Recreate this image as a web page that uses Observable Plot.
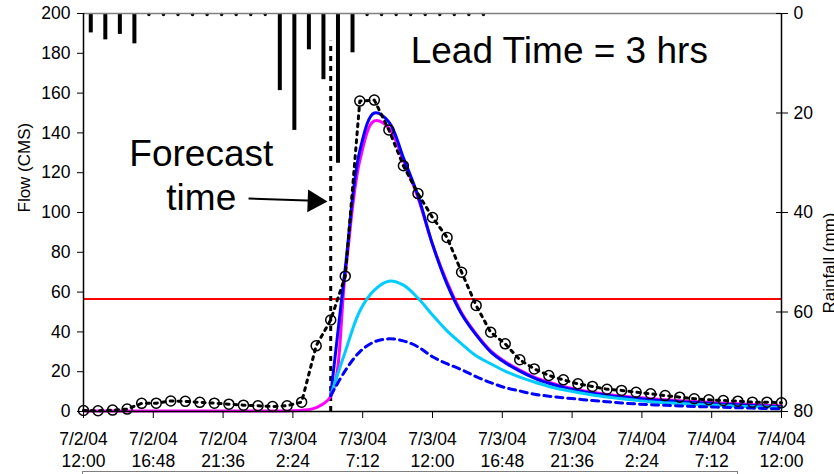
<!DOCTYPE html>
<html><head><meta charset="utf-8">
<script src="https://cdn.jsdelivr.net/npm/d3@7"></script>
<script src="https://cdn.jsdelivr.net/npm/@observablehq/plot@0.6"></script>
<style>
body{margin:0;background:#fff;overflow:hidden}
#wrap{position:relative;width:834px;height:474px;overflow:hidden;background:#fff;font-family:"Liberation Sans",Arial,sans-serif}
#legendBox{position:absolute;left:82px;top:471px;width:654px;height:30px;border:1px solid #808080;background:#fff}
</style></head><body><div id="wrap"><div id="legendBox"></div></div>
<script>
// hours since 7/2/04 12:00
const hours = d3.range(0, 49);
const observed = [0.5,0.4,0.7,1.2,4.1,4.2,5.3,5.1,4.6,4.2,3.7,3.2,2.9,2.5,2.9,4.7,33.0,46.0,68.0,156.0,156.5,141.5,123.5,109.5,97.5,87.5,70.0,53.3,39.8,34.0,26.0,21.4,18.1,15.9,13.9,12.6,11.2,10.6,9.7,8.9,8.0,7.2,6.4,5.9,5.5,5.2,4.7,4.7,4.4];
const simulated = [0.3,0.3,0.3,0.3,0.3,0.3,0.3,0.3,0.3,0.3,0.3,0.3,0.3,0.3,0.3,0.6,2.0,7.5,69,126,146,142.5,126,107.5,84,65,49.5,39,30.5,25,20.8,17.3,14.7,12.6,11.0,9.7,8.6,7.8,7.1,6.4,5.9,5.4,5.0,4.6,4.2,3.9,3.5,3.2,2.9];
const forecastHours = d3.range(17, 49);
const forecastBlue = [8,72,131,150,145.5,127.5,108.5,84,64,49,38.5,30,24.5,20.3,16.8,14.2,12.1,10.5,9.2,8.1,7.3,6.6,5.9,5.4,4.9,4.5,4.1,3.7,3.4,3.0,2.7,2.4];
const forecastCyan = [8,30,50.5,61,65.5,63.5,57,48.5,40.5,34,28,24,20.3,17.3,14.8,12.6,10.9,9.5,8.3,7.3,6.4,5.6,4.9,4.4,4.0,3.6,3.3,3.0,2.7,2.4,2.2,2.0];
const forecastDashed = [8,20.5,30,35,36.5,35.5,32.5,27.5,24,21,17.5,14.5,12,10.3,8.7,7.7,6.9,6.2,5.5,4.9,4.3,3.8,3.4,3.1,2.8,2.5,2.3,2.1,1.9,1.7,1.5,1.3];
const rainHours = [0.5,1.5,2.5,3.5,4.5,5.5,6.5,7.5,8.5,9.5,10.5,11.5,12.5,13.5,14.5,15.5,16.5,17.5,18.5,19.5,20.5,21.5,22.5,23.5,24.5,25.5,26.5,27.5];
const rainfall = [3.9,5.3,4.2,6.1,0,0,0,0,0,0,0,0,0,15.5,23.5,7.3,13.3,30.1,7.9,0,0,0,0,0,0,0,0,0];
const xTickHours = [0,4.8,9.6,14.4,19.2,24,28.8,33.6,38.4,43.2,48];
const xTickLabels = ["7/2/04\n12:00","7/2/04\n16:48","7/2/04\n21:36","7/3/04\n2:24","7/3/04\n7:12","7/3/04\n12:00","7/3/04\n16:48","7/3/04\n21:36","7/4/04\n2:24","7/4/04\n7:12","7/4/04\n12:00"];
const flowTicks = [0,20,40,60,80,100,120,140,160,180,200];
const rainTicks = [0,20,40,60,80];
const threshold = 56.5;
const forecastHour = 17;
const forecastLineTop = 186;
const leadLabel = [{text:"Lead Time = 3 hrs", h:22.5, q:175}];
const forecastLabel = [{text:"Forecast", h:8.1, q:123.5},{text:"time", h:8.1, q:101.5}];
const arrowLine = [{h1:11.35, q1:107.0, h2:15.9, q2:105.9}];
const arrowHead = [{h:15.87, q:105.7}];

const rainMax = 80, flowMax = 200;
const rainToFlow = r => flowMax - r * flowMax / rainMax;

const obs = hours.map((h,i)=>({h, q:observed[i]}));
const sim = hours.map((h,i)=>({h, q:simulated[i]}));
const fb = forecastHours.map((h,i)=>({h, q:forecastBlue[i]}));
const fc = forecastHours.map((h,i)=>({h, q:forecastCyan[i]}));
const fd = forecastHours.map((h,i)=>({h, q:forecastDashed[i]}));
const rain = rainHours.map((h,i)=>({h, r:rainfall[i]}));

const font = '"Liberation Sans", Arial, sans-serif';
const fs = 17.5;
const chart = Plot.plot({
  width: 834, height: 474,
  marginLeft: 83, marginRight: 53, marginTop: 13, marginBottom: 63,
  style: {fontFamily: font, fontSize: fs + "px", color: "#000", background: "#fff"},
  x: {domain: [0,48], label: null},
  y: {domain: [0,200], label: null},
  marks: [
    Plot.ruleY([threshold], {stroke: "#ff0000", strokeWidth: 2}),
    Plot.ruleX(rain.filter(d=>d.r>0), {x:"h", y1: flowMax, y2: d=>rainToFlow(d.r), stroke:"black", strokeWidth:4}),
    Plot.dot(rain.filter(d=>d.r===0), {x:"h", y: flowMax, r:1.7, fill:"black", dy:1}),
    Plot.ruleX([forecastHour], {y1:0, y2:forecastLineTop, stroke:"black", strokeWidth:3, strokeDasharray:"5,5"}),
    Plot.line(sim, {x:"h", y:"q", stroke:"#ff00ff", strokeWidth:3, curve:"catmull-rom"}),
    Plot.line(fb, {x:"h", y:"q", stroke:"#0000ff", strokeWidth:3, curve:"catmull-rom"}),
    Plot.line(fc, {x:"h", y:"q", stroke:"#00ccff", strokeWidth:3, curve:"catmull-rom"}),
    Plot.line(fd, {x:"h", y:"q", stroke:"#0000ff", strokeWidth:3, strokeDasharray:"7,5", curve:"catmull-rom"}),
    Plot.line(obs, {x:"h", y:"q", stroke:"black", strokeWidth:3, strokeDasharray:"3,5"}),
    Plot.dot(obs, {x:"h", y:"q", r:5, stroke:"black", strokeWidth:1.5, fill:"none"}),
    Plot.ruleY([flowMax], {stroke:"#808080", strokeWidth:1.5}),
    Plot.ruleX([0], {stroke:"black", strokeWidth:1.5}),
    Plot.ruleX([48], {stroke:"black", strokeWidth:1.5}),
    Plot.ruleY([0], {stroke:"black", strokeWidth:1.5}),
    Plot.axisX({ticks: xTickHours, tickFormat: d => xTickLabels[xTickHours.indexOf(d)], tickSize: 7, tickPadding: 11, lineHeight: 1.25, fontSize: fs, label: null}),
    Plot.axisY({ticks: flowTicks, tickSize: 6, tickPadding: 7, fontSize: fs, label: null}),
    Plot.axisY({anchor:"right", ticks: rainTicks.map(rainToFlow), tickSize: 12, dx: -6, tickFormat: () => "", label: null}),
    Plot.axisY({anchor:"right", ticks: rainTicks.map(rainToFlow), tickSize: 0, tickPadding: 12, fontSize: fs, tickFormat: d => String(Math.round((flowMax - d) * rainMax / flowMax)), label: null}),
    Plot.text(leadLabel, {x:"h", y:"q", text:"text", textAnchor:"start", lineAnchor:"bottom", fontSize:37, fill:"black"}),
    Plot.text(forecastLabel, {x:"h", y:"q", text:"text", textAnchor:"middle", lineAnchor:"bottom", fontSize:37, fill:"black"}),
    Plot.link(arrowLine, {x1:"h1", y1:"q1", x2:"h2", y2:"q2", stroke:"black", strokeWidth:2}),
    Plot.dot(arrowHead, {x:"h", y:"q", symbol:"triangle", r:8.5, fill:"black", stroke:"none", rotate:92}),
    Plot.text(["Flow (CMS)"], {frameAnchor:"left", dx:-59, rotate:-90, fontSize:17, fill:"black"}),
    Plot.text(["Rainfall (mm)"], {frameAnchor:"right", dx:48, rotate:-90, fontSize:17, fill:"black"})
  ]
});
document.getElementById("wrap").prepend(chart);
</script>
</body></html>
